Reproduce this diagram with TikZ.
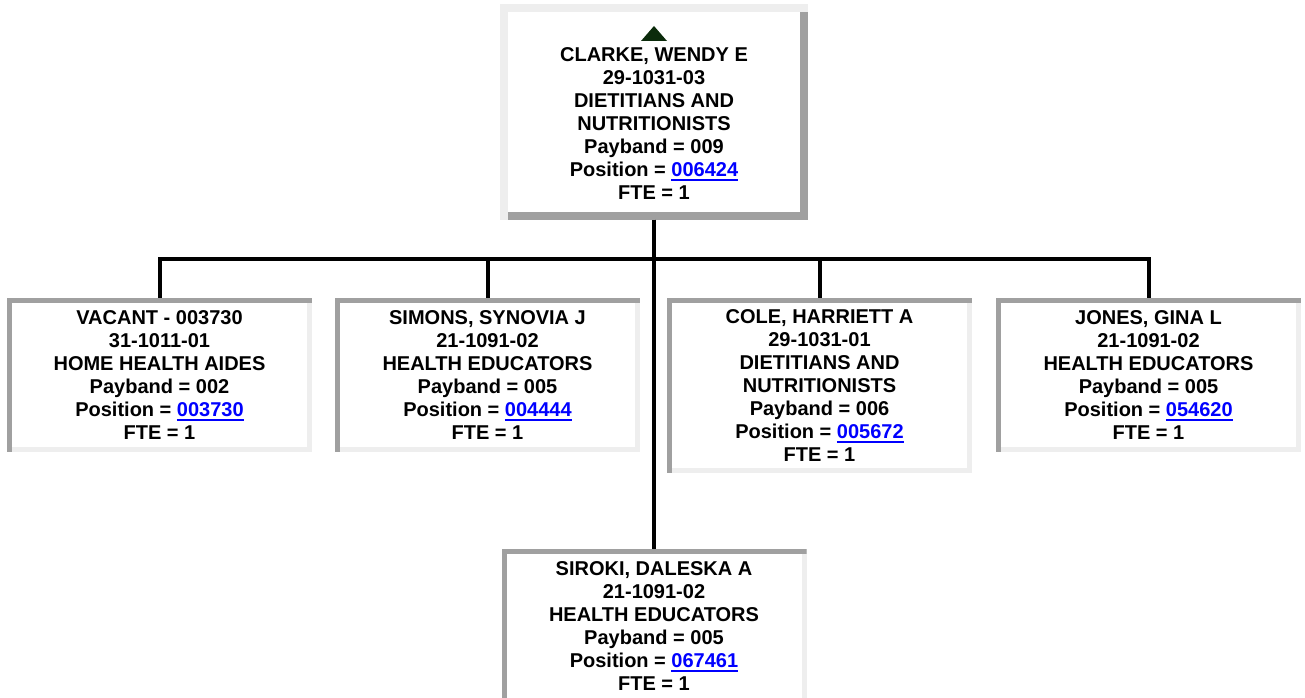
\documentclass[tikz,border=0pt]{standalone}
\usepackage{fontspec}
\setmainfont{Liberation Sans}
\usepackage{xcolor}
\usepackage{tikz}
\usetikzlibrary{calc}
\definecolor{edgedark}{HTML}{A0A0A0}
\definecolor{edgepale}{HTML}{EEEEEE}
\definecolor{linkblue}{HTML}{0000FF}
\definecolor{upgreen}{HTML}{0B2B0B}

\newcommand{\poslink}[1]{\textcolor{linkblue}{\setbox0=\hbox{#1}\rlap{\rule[-3.2pt]{\wd0}{1.5pt}}\box0}}
\newcommand{\staffinfo}[5]{#1\\#2\\#3\\Payband = #4\\Position = \poslink{#5}\\FTE = 1}

\tikzset{
  bevel/.style n args={3}{fill=#2, path picture={
      \fill[#1] (path picture bounding box.north west) rectangle ([yshift=-#3]path picture bounding box.north east);
      \fill[#1] (path picture bounding box.north west) rectangle ([xshift=#3]path picture bounding box.south west);
      \fill[white] ([xshift=#3,yshift=#3]path picture bounding box.south west) rectangle ([xshift=-#3,yshift=-#3]path picture bounding box.north east);}},
  post/.style={rectangle, inner sep=0pt, outer sep=0pt, minimum width=228.75pt, minimum height=115.5pt,
    align=center, font=\fontsize{15}{17.25}\selectfont\bfseries, bevel={edgedark}{edgepale}{3.75pt}},
  headpost/.style={post, minimum width=231pt, minimum height=162pt, bevel={edgepale}{edgedark}{6pt}},
  wire/.style={line width=3pt}
}

\begin{document}
\begin{tikzpicture}[x=0.75pt,y=-0.75pt]
  \useasboundingbox (0,0) rectangle (1305,698);
  % head of the unit
  \node[headpost] (clarke) at (654,112)
    {\rule{0pt}{11.25pt}\\\staffinfo{CLARKE, WENDY E}{29-1031-03}{DIETITIANS AND\\NUTRITIONISTS}{009}{006424}};
  \fill[upgreen] ($(clarke.north)+(-13,37)$) -- ($(clarke.north)+(0,22)$) -- ($(clarke.north)+(13,37)$) -- cycle;
  % staff
  \node[post] (vacant) at (159.5,375) {\staffinfo{VACANT - 003730}{31-1011-01}{HOME HEALTH AIDES}{002}{003730}};
  \node[post] (simons) at (487.5,375) {\staffinfo{SIMONS, SYNOVIA J}{21-1091-02}{HEALTH EDUCATORS}{005}{004444}};
  \node[post,minimum height=131.25pt] (cole) at (819.5,385.5)
    {\staffinfo{COLE, HARRIETT A}{29-1031-01}{DIETITIANS AND\\NUTRITIONISTS}{006}{005672}};
  \node[post] (jones) at (1148.5,375) {\staffinfo{JONES, GINA L}{21-1091-02}{HEALTH EDUCATORS}{005}{054620}};
  \node[post] (siroki) at (654,626) {\staffinfo{SIROKI, DALESKA A}{21-1091-02}{HEALTH EDUCATORS}{005}{067461}};
  % lines
  \foreach \n in {vacant,simons,cole,jones}
    \draw[wire] (clarke.south) -- ++(0,39) -| (\n.north);
  \draw[wire] (clarke.south) -- (siroki.north);
\end{tikzpicture}
\end{document}
